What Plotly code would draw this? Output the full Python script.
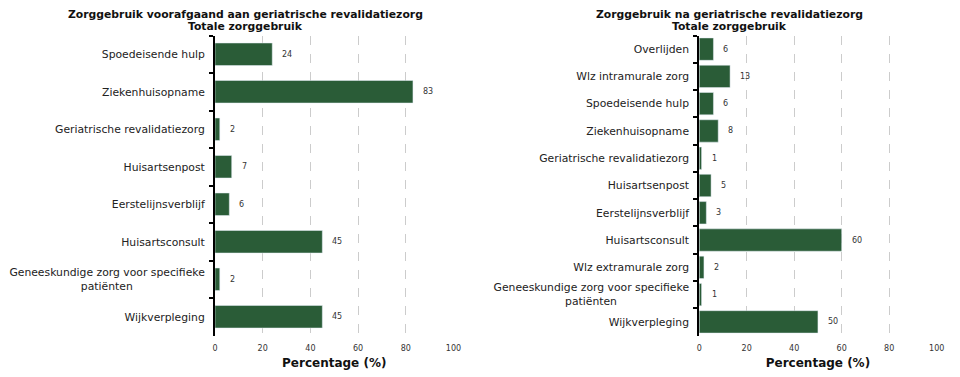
import plotly.graph_objects as go

NBSP = "\u00a0"
GEN_LABEL = "Geneeskundige zorg voor specifieke<br>patiënten" + NBSP * 21

left_title = ["Zorggebruik voorafgaand aan geriatrische revalidatiezorg", "Totale zorggebruik"]
right_title = ["Zorggebruik na geriatrische revalidatiezorg", "Totale zorggebruik"]

left_categories = ["Spoedeisende hulp", "Ziekenhuisopname", "Geriatrische revalidatiezorg",
                   "Huisartsenpost", "Eerstelijnsverblijf", "Huisartsconsult",
                   GEN_LABEL, "Wijkverpleging"]
left_values = [24, 83, 2, 7, 6, 45, 2, 45]

right_categories = ["Overlijden", "Wlz intramurale zorg", "Spoedeisende hulp", "Ziekenhuisopname",
                    "Geriatrische revalidatiezorg", "Huisartsenpost", "Eerstelijnsverblijf",
                    "Huisartsconsult", "Wlz extramurale zorg", GEN_LABEL, "Wijkverpleging"]
right_values = [6, 13, 6, 8, 1, 5, 3, 60, 2, 1, 50]

x_ticks = [0, 20, 40, 60, 80, 100]
x_title = "Percentage (%)"

BAR = "#2a5c37"
FONT = "DejaVu Sans"

fig = go.Figure()
fig.add_trace(go.Bar(x=left_values, y=left_categories, orientation="h", width=0.6,
                     marker=dict(color=BAR), xaxis="x", yaxis="y", showlegend=False,
                     hoverinfo="x+y"))
fig.add_trace(go.Bar(x=right_values, y=right_categories, orientation="h", width=0.82,
                     marker=dict(color=BAR), xaxis="x2", yaxis="y2", showlegend=False,
                     hoverinfo="x+y"))

annotations = []
for cats, vals, xr, yr in [(left_categories, left_values, "x", "y"),
                           (right_categories, right_values, "x2", "y2")]:
    for c, v in zip(cats, vals):
        annotations.append(dict(x=v, y=c, xref=xr, yref=yr, text=str(v), showarrow=False,
                                xanchor="left", xshift=8,
                                font=dict(family=FONT, size=8, color="#333333")))

for lines, cx in [(left_title, 245.5), (right_title, 729.5)]:
    for line, cy in zip(lines, [14, 26]):
        annotations.append(dict(text="<b>" + line + "</b>",
                                x=cx / 960, y=1 - cy / 377, xref="paper", yref="paper",
                                xanchor="center", yanchor="middle", showarrow=False,
                                font=dict(family=FONT, size=10.8, color="#111111")))

xcommon = dict(range=[0, 100], tickvals=x_ticks, showgrid=True, gridcolor="#cccccc",
               griddash="dash", gridwidth=1, zeroline=False, showline=False, ticks="",
               tickfont=dict(family=FONT, size=8, color="#333333"), automargin=False,
               ticklabelstandoff=6,
               title=dict(text="<b>" + x_title + "</b>", standoff=7,
                          font=dict(family=FONT, size=12, color="#111111")),
               fixedrange=True)
ycommon = dict(type="category", autorange="reversed", showline=True, linecolor="#000000",
               linewidth=2, ticks="outside", tickson="boundaries", ticklen=4,
               tickcolor="#000000", tickwidth=2, showgrid=False, automargin=False,
               tickfont=dict(family=FONT, size=10.8, color="#222222"),
               ticklabelstandoff=6, fixedrange=True)

ydom = [1 - 335.5 / 377, 1 - 35.5 / 377]

fig.update_layout(
    width=960, height=377,
    margin=dict(l=0, r=0, t=0, b=0, autoexpand=False),
    paper_bgcolor="white", plot_bgcolor="white",
    font=dict(family=FONT),
    xaxis=dict(domain=[215 / 960, 453.5 / 960], anchor="y", **xcommon),
    yaxis=dict(domain=ydom, anchor="x", **ycommon),
    xaxis2=dict(domain=[699.2 / 960, 936.7 / 960], anchor="y2", **xcommon),
    yaxis2=dict(domain=ydom, anchor="x2", **ycommon),
    annotations=annotations,
)

fig.write_html("out.html", config={"displayModeBar": False},
               post_script="document.body.style.margin='0';document.body.style.overflow='hidden';")
